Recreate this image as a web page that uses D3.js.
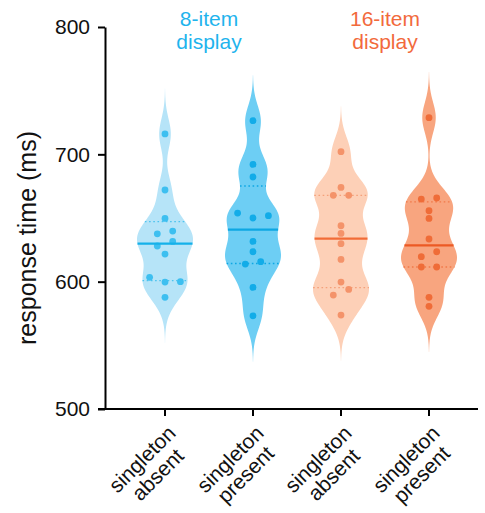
<!DOCTYPE html>
<html>
<head>
<meta charset="utf-8">
<script src="https://cdn.jsdelivr.net/npm/d3@7"></script>
<style>
  html, body { margin: 0; padding: 0; background: #fff; }
  svg { display: block; font-family: "Liberation Sans", Arial, sans-serif; }
</style>
</head>
<body>
<svg id="chart" width="485" height="513"></svg>
<script>
// Response times (ms) per participant, one array per condition
const categories = ["8-absent", "8-present", "16-absent", "16-present"];
const labelLines = [["singleton", "absent"], ["singleton", "present"], ["singleton", "absent"], ["singleton", "present"]];
const rt8Absent   = [716, 672, 649.7, 639.7, 637.6, 631.6, 628, 621.7, 603.4, 600, 599.7, 587.7];
const rt8Present  = [726.4, 692.1, 682.2, 653.9, 651.8, 650, 631.6, 623.5, 615.7, 613.8, 595.5, 573.2];
const rt16Absent  = [702.1, 674, 667.8, 667.8, 643.9, 637.9, 629.8, 617.5, 599.7, 593.9, 589.5, 573.8];
const rt16Present = [728.8, 665.7, 664.9, 655.7, 649.7, 633.5, 623.5, 619.6, 611.5, 611.5, 587.7, 580.6];
const yTicks = [500, 600, 700, 800];
const groupTitles = [["8-item", "display"], ["16-item", "display"]];

const series = [rt8Absent, rt8Present, rt16Absent, rt16Present];

const palette = [
  { fill: "#b6e4f8", dot: "#3dbff0", median: "#14b1ea", quart: "#4cc3ee" },
  { fill: "#6dcef4", dot: "#12ace8", median: "#0ea7e3", quart: "#0ea7e3" },
  { fill: "#fdd0b7", dot: "#f4936a", median: "#f26c37", quart: "#f4a07a" },
  { fill: "#f8a57f", dot: "#ef6c38", median: "#ec5a24", quart: "#f0794a" }
];
const titleColors = ["#1fb4ed", "#f26a3c"];

const svg = d3.select("#chart");
const axisLeftX = 105, axisBottomY = 409;

const x = d3.scaleBand().domain(categories).range([121, 473]);
const y = d3.scaleLinear().domain([500, 800]).range([axisBottomY, 27]);

// Kernel density (Gaussian) for the violin outlines
const bandwidth = 12;
function kde(values) {
  const lo = d3.min(values) - 3 * bandwidth, hi = d3.max(values) + 3 * bandwidth;
  const grid = d3.range(lo, hi + 0.001, 0.5);
  return grid.map(v => [v, d3.sum(values, d => Math.exp(-0.5 * ((v - d) / bandwidth) ** 2))]);
}
// Quartiles by the (n+1)p rule
function quantileN1(sorted, p) {
  const n = sorted.length, pos = (n + 1) * p;
  const i = Math.floor(pos);
  if (i < 1) return sorted[0];
  if (i >= n) return sorted[n - 1];
  return sorted[i - 1] + (pos - i) * (sorted[i] - sorted[i - 1]);
}

const maxHalf = 28;
const slotStep = 7.7;
const dotR = 3.4;

series.forEach((vals, k) => {
  const cat = categories[k];
  const cx = x(cat) + x.bandwidth() / 2;
  const col = palette[k];
  const dens = kde(vals);
  const dmax = d3.max(dens, d => d[1]);
  const w = d3.scaleLinear().domain([0, dmax]).range([0, maxHalf]);
  const halfAt = v => {
    const dv = d3.sum(vals, d => Math.exp(-0.5 * ((v - d) / bandwidth) ** 2));
    return w(dv);
  };

  const g = svg.append("g");
  g.append("path")
    .datum(dens)
    .attr("fill", col.fill)
    .attr("d", d3.area()
      .y(d => y(d[0]))
      .x0(d => cx - w(d[1]))
      .x1(d => cx + w(d[1]))
      .curve(d3.curveBasis));

  const sorted = vals.slice().sort(d3.ascending);
  const med = d3.median(sorted);
  const q1 = quantileN1(sorted, 0.25), q3 = quantileN1(sorted, 0.75);

  [q1, q3].forEach(q => {
    const hw = halfAt(q);
    g.append("line")
      .attr("x1", cx - hw).attr("x2", cx + hw)
      .attr("y1", y(q)).attr("y2", y(q))
      .attr("stroke", col.quart).attr("stroke-width", 1.3)
      .attr("stroke-dasharray", "1.6,2.6");
  });

  // Dots: values close together are spread symmetrically across slots
  const groups = [];
  sorted.forEach(v => {
    const last = groups[groups.length - 1];
    if (last && Math.abs(y(v) - y(last[last.length - 1])) < 7) last.push(v);
    else groups.push([v]);
  });
  const layouts = { 1: [0], 2: [-1, 1], 3: [0, 2, -2], 4: [-1, 1, -3, 3] };
  const dots = [];
  groups.forEach(gr => {
    const slots = layouts[gr.length] || gr.map((_, i) => (i % 2 ? 1 : -1) * Math.ceil(i / 2) * 2);
    gr.forEach((v, i) => dots.push({ v, slot: slots[i] }));
  });
  g.selectAll("circle")
    .data(dots)
    .join("circle")
    .attr("cx", d => cx + d.slot * slotStep)
    .attr("cy", d => y(d.v))
    .attr("r", dotR)
    .attr("fill", col.dot);

  const hm = halfAt(med);
  g.append("line")
    .attr("x1", cx - hm).attr("x2", cx + hm)
    .attr("y1", y(med)).attr("y2", y(med))
    .attr("stroke", col.median).attr("stroke-width", 2.2);
});

// Axes
const yAxis = svg.append("g")
  .attr("transform", `translate(${axisLeftX},0)`)
  .call(d3.axisLeft(y).tickValues(yTicks).tickSize(7).tickPadding(8).tickSizeOuter(0));
yAxis.select(".domain").attr("stroke", "#000").attr("stroke-width", 2);
yAxis.selectAll(".tick line").attr("stroke", "#000").attr("stroke-width", 2);
yAxis.selectAll(".tick text")
  .attr("font-size", 21).attr("fill", "#111")
  .attr("font-family", "Liberation Sans, Arial, sans-serif");

const xAxis = svg.append("g")
  .attr("transform", `translate(0,${axisBottomY})`)
  .call(d3.axisBottom(x).tickSize(7).tickSizeOuter(0).tickFormat(""));
xAxis.select(".domain")
  .attr("d", `M${axisLeftX - 7},0H478`)
  .attr("stroke", "#000").attr("stroke-width", 2);
xAxis.selectAll(".tick line").attr("stroke", "#000").attr("stroke-width", 2);

// Rotated two-line category labels
categories.forEach((cat, k) => {
  const cx = x(cat) + x.bandwidth() / 2;
  const t = svg.append("text")
    .attr("transform", `translate(${cx - 15},467) rotate(-45)`)
    .attr("text-anchor", "middle")
    .attr("font-size", 21)
    .attr("fill", "#111");
  labelLines[k].forEach((line, i) => {
    t.append("tspan").attr("x", 0).attr("y", i === 0 ? -4 : 18).text(line);
  });
});

// Y axis title
svg.append("text")
  .attr("transform", `translate(36,238) rotate(-90)`)
  .attr("text-anchor", "middle")
  .attr("font-size", 25)
  .attr("fill", "#111")
  .text("response time (ms)");

// Group titles above each pair of violins
groupTitles.forEach((lines, gi) => {
  const a = x(categories[gi * 2]) + x.bandwidth() / 2;
  const b = x(categories[gi * 2 + 1]) + x.bandwidth() / 2;
  const t = svg.append("text")
    .attr("text-anchor", "middle")
    .attr("font-size", 21)
    .attr("fill", titleColors[gi]);
  lines.forEach((line, i) => {
    t.append("tspan").attr("x", (a + b) / 2).attr("y", 26 + i * 23).text(line);
  });
});
</script>
</body>
</html>
